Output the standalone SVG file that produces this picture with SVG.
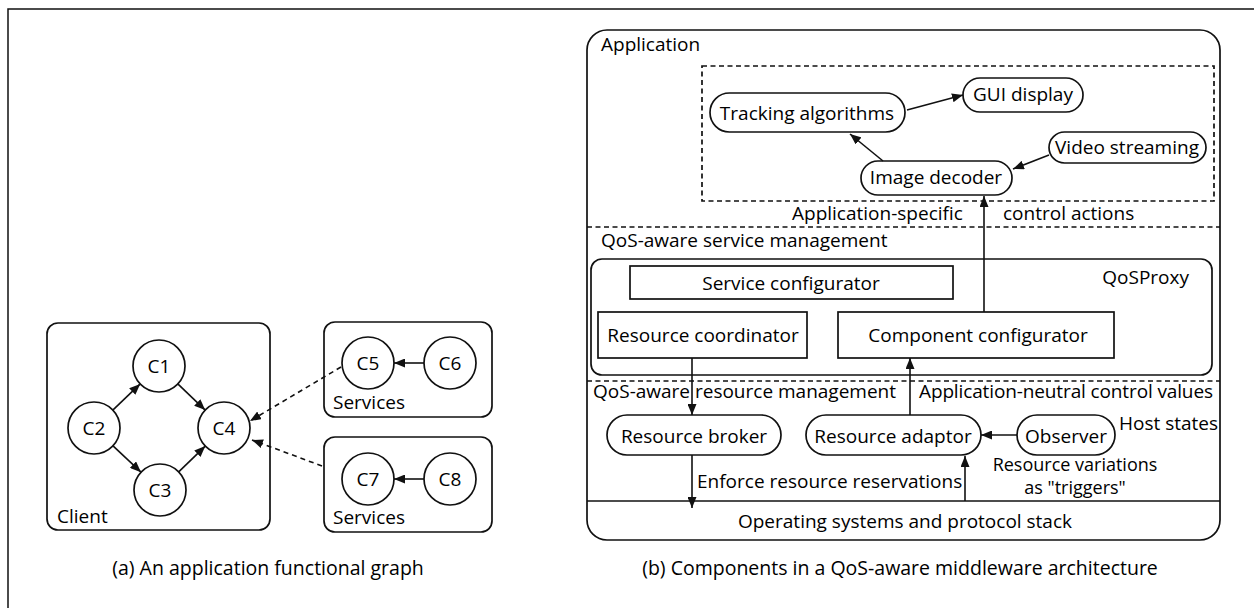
<svg xmlns="http://www.w3.org/2000/svg" width="1254" height="608" viewBox="0 0 1254 608">
<defs>
<style>
text{font-family:"Open Sans","Noto Sans","Liberation Sans",sans-serif;font-size:19px;fill:#000}
.m{text-anchor:middle}
.e{text-anchor:end}
.cap{font-size:19.5px}
.sm{font-size:18px}
.box{fill:none;stroke:#111;stroke-width:1.7}
.nd{fill:#fff;stroke:#111;stroke-width:1.7}
.ln{fill:none;stroke:#111;stroke-width:1.5}
.dash{fill:none;stroke:#111;stroke-width:1.7;stroke-dasharray:5 3.5}
.arr{fill:none;stroke:#111;stroke-width:1.6;marker-end:url(#ah)}
.darr{fill:none;stroke:#111;stroke-width:1.6;stroke-dasharray:5 4;marker-end:url(#ah)}
</style>
<marker id="ah" markerUnits="userSpaceOnUse" markerWidth="11" markerHeight="9" refX="11" refY="4.5" orient="auto">
<path d="M0,0 L11,4.5 L0,9 z" fill="#111"/>
</marker>
</defs>
<rect width="1254" height="608" fill="#fff"/>
<!-- outer frame -->
<path class="ln" d="M8,608 V9 H1254" stroke="#333"/>

<!-- ===== (a) left panel ===== -->
<g id="client">
<rect class="box" x="47" y="323" width="223" height="207" rx="11"/>
<text x="57" y="523">Client</text>
</g>
<g id="services1">
<rect class="box" x="324" y="322" width="168" height="95" rx="11"/>
<text x="333" y="409">Services</text>
</g>
<g id="services2">
<rect class="box" x="324" y="437" width="168" height="95" rx="11"/>
<text x="333" y="524">Services</text>
</g>
<g id="c1"><circle class="nd" cx="159" cy="366" r="26"/><text class="m" x="159" y="373">C1</text></g>
<g id="c2"><circle class="nd" cx="94" cy="428" r="26"/><text class="m" x="94" y="435">C2</text></g>
<g id="c3"><circle class="nd" cx="160" cy="490" r="26"/><text class="m" x="160" y="497">C3</text></g>
<g id="c4"><circle class="nd" cx="224" cy="428" r="26"/><text class="m" x="224" y="435">C4</text></g>
<g id="c5"><circle class="nd" cx="368" cy="363" r="26"/><text class="m" x="368" y="370">C5</text></g>
<g id="c6"><circle class="nd" cx="450" cy="363" r="26"/><text class="m" x="450" y="370">C6</text></g>
<g id="c7"><circle class="nd" cx="368" cy="479" r="26"/><text class="m" x="368" y="486">C7</text></g>
<g id="c8"><circle class="nd" cx="450" cy="479" r="26"/><text class="m" x="450" y="486">C8</text></g>
<text class="m cap" x="268" y="575">(a) An application functional graph</text>

<!-- ===== (b) right panel ===== -->
<g id="application">
<rect class="box" x="587" y="30" width="633" height="510" rx="20"/>
<text x="601" y="51">Application</text>
</g>
<g id="app-specific-area">
<rect class="dash" x="702" y="66" width="512" height="135"/>
</g>
<g id="layers">
<line class="dash" x1="587" y1="227" x2="1220" y2="227"/>
<line class="dash" x1="587" y1="381" x2="1220" y2="381"/>
<line class="ln" x1="587" y1="501" x2="1220" y2="501"/>
<text x="792" y="220">Application-specific</text>
<text x="1003" y="220">control actions</text>
<text x="601" y="247">QoS-aware service management</text>
<text x="593" y="398">QoS-aware resource management</text>
<text x="919" y="398" textLength="294">Application-neutral control values</text>
<text x="697" y="488">Enforce resource reservations</text>
<text x="1119" y="430">Host states</text>
<text class="m sm" x="1075" y="471">Resource variations</text>
<text class="m sm" x="1075" y="494">as "triggers"</text>
</g>
<g id="os">
<text class="m" x="905" y="528">Operating systems and protocol stack</text>
</g>
<g id="tracking"><rect class="nd" x="710" y="93" width="195" height="39" rx="19.5"/><text class="m" x="807" y="120">Tracking algorithms</text></g>
<g id="gui"><rect class="nd" x="963" y="78" width="120" height="34" rx="17"/><text class="m" x="1023" y="101">GUI display</text></g>
<g id="video"><rect class="nd" x="1049" y="132" width="157" height="31" rx="15.5"/><text class="m" x="1127" y="154">Video streaming</text></g>
<g id="decoder"><rect class="nd" x="861" y="161" width="151" height="34" rx="17"/><text class="m" x="936" y="184">Image decoder</text></g>
<g id="qosproxy">
<rect class="box" x="591" y="259" width="621" height="116" rx="11"/>
<text class="e" x="1189" y="284">QoSProxy</text>
</g>
<g id="service-configurator"><rect class="nd" x="630" y="266" width="323" height="33"/><text class="m" x="791" y="290">Service configurator</text></g>
<g id="resource-coordinator"><rect class="nd" x="598" y="312" width="209" height="46"/><text class="m" x="703" y="342">Resource coordinator</text></g>
<g id="component-configurator"><rect class="nd" x="838" y="312" width="276" height="46"/><text class="m" x="978" y="342">Component configurator</text></g>
<g id="broker"><rect class="nd" x="607" y="415" width="174" height="40" rx="20"/><text class="m" x="694" y="443">Resource broker</text></g>
<g id="adaptor"><rect class="nd" x="806" y="415" width="175" height="40" rx="20"/><text class="m" x="893" y="443">Resource adaptor</text></g>
<g id="observer"><rect class="nd" x="1017" y="415" width="98" height="40" rx="20"/><text class="m" x="1066" y="443">Observer</text></g>
<text class="m cap" x="900" y="575">(b) Components in a QoS-aware middleware architecture</text>

<!-- ===== connectors ===== -->
<g id="connectors">
<line class="arr" x1="112.8" y1="410.1" x2="140.2" y2="383.9"/>
<line class="arr" x1="177.8" y1="383.9" x2="205.2" y2="410.1"/>
<line class="arr" x1="113" y1="445.8" x2="141" y2="472.2"/>
<line class="arr" x1="178.7" y1="471.9" x2="205.3" y2="446.1"/>
<line class="arr" x1="424" y1="363" x2="394" y2="363"/>
<line class="arr" x1="424" y1="479" x2="394" y2="479"/>
<line class="darr" x1="341" y1="367" x2="250" y2="421"/>
<line class="darr" x1="322" y1="466" x2="252" y2="440"/>
<line class="arr" x1="907" y1="110" x2="963" y2="95"/>
<line class="arr" x1="883" y1="161" x2="850" y2="134"/>
<line class="arr" x1="1049" y1="155" x2="1013" y2="169"/>
<line class="arr" x1="984" y1="312" x2="984" y2="196"/>
<line class="arr" x1="692" y1="358" x2="692" y2="415"/>
<line class="arr" x1="692" y1="455" x2="692" y2="508"/>
<line class="arr" x1="965" y1="501" x2="965" y2="456"/>
<line class="arr" x1="910" y1="415" x2="910" y2="358"/>
<line class="arr" x1="1017" y1="435" x2="981" y2="435"/>
</g>
</svg>
